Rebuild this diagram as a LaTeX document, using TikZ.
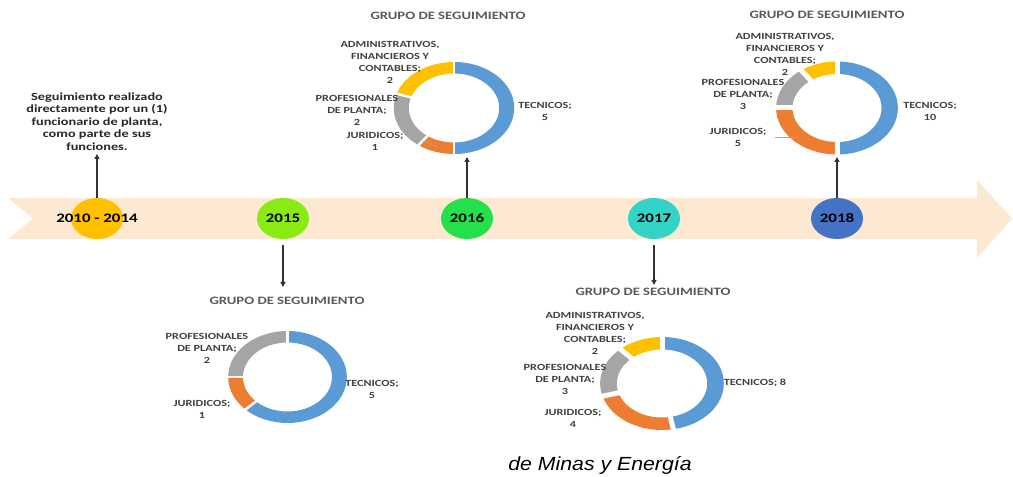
\documentclass[tikz,border=0pt]{standalone}
\usepackage{fontspec}
\usepackage{tikz}
\usetikzlibrary{arrows.meta,shapes.geometric}
\newfontfamily\lblfont[FakeStretch=1.3]{Carlito}
\newfontfamily\capfont[FakeStretch=1.12]{Liberation Sans}
\definecolor{bandpeach}{HTML}{FDE9D2}
\definecolor{yr10}{HTML}{FFC000}
\definecolor{yr15}{HTML}{8AEA14}
\definecolor{yr16}{HTML}{25E04A}
\definecolor{yr17}{HTML}{33D3C8}
\definecolor{yr18}{HTML}{4472C4}
\definecolor{tecblue}{HTML}{5B9BD5}
\definecolor{jurorange}{HTML}{ED7D31}
\definecolor{profgray}{HTML}{A5A5A5}
\definecolor{admyellow}{HTML}{FFC000}
\newcommand{\rout}{46}
\newcommand{\rin}{34.5}
\newcommand{\ringpart}[3]{%
  \fill[#1] (#2:\rout) arc[start angle=#2, end angle=#3, radius=\rout]
    -- (#3:\rin) arc[start angle=#3, end angle=#2, radius=\rin] -- cycle;}

\begin{document}
\begin{tikzpicture}[x=1pt, y=1pt,
    yearfont/.style={font=\lblfont\bfseries\fontsize{13}{15}\selectfont},
    yearnode/.style={ellipse, fill=#1, minimum width=52pt, minimum height=41pt,
      inner sep=0pt, yearfont},
    grptitle/.style={text=black!65, font=\lblfont\bfseries\fontsize{11.3}{13}\selectfont},
    lbl/.style={text=black!75, align=center, font=\lblfont\bfseries\fontsize{9.4}{12}\selectfont},
    link/.style={draw=black!80, line width=1.4pt, -{Triangle[length=5pt, width=5pt]}},
    cut/.style={white, line width=#1},
    leader/.style={draw=black!35, line width=0.6pt}]
    \useasboundingbox (0,0) rectangle (1013,477);

    % Timeline band
    \fill[bandpeach] (8,279) -- (977,279) -- (977,297) -- (1012,258.5) -- (977,219)
        -- (977,238) -- (8,238) -- (33,258.5) -- cycle;

    % Years
    \node[yearnode=yr10] (y2010) at (97,258.5) {};
    \node[yearfont] (y2010txt) at (y2010.center) {2010 - 2014};
    \node[yearnode=yr15] (y2015) at (283,258.5) {2015};
    \node[yearnode=yr16] (y2016) at (467,258.5) {2016};
    \node[yearnode=yr17] (y2017) at (654,258.5) {2017};
    \node[yearnode=yr18] (y2018) at (837,258.5) {2018};

    % 2010 - 2014
    \node[text=black!85, align=center, font=\lblfont\bfseries\fontsize{11}{12.5}\selectfont]
        (note) at (97,355.5) {Seguimiento realizado\\directamente por un (1)\\funcionario de planta,\\como parte de sus\\funciones.};
    \draw[link] (y2010.north) -- (note.south);

    % 2016
    \begin{scope}[shift={(454,369)}, xscale=1.31]
        \ringpart{tecblue}{90}{-90}
        \ringpart{jurorange}{-90}{-126}
        \ringpart{profgray}{-126}{-198}
        \ringpart{admyellow}{-198}{-270}
        \foreach \a in {90,-90,-126,-198} \draw[cut=2.5pt] (\a:31) -- (\a:49);
    \end{scope}
    \node[grptitle] (t16) at (448,461) {GRUPO DE SEGUIMIENTO};
    \node[lbl] (adm16) at (390,414.5) {ADMINISTRATIVOS,\\FINANCIEROS Y\\CONTABLES;\\2};
    \node[lbl] (prof16) at (357,367) {PROFESIONALES\\DE PLANTA;\\2};
    \node[lbl] (jur16) at (375,335.5) {JURIDICOS;\\1};
    \node[lbl] (tec16) at (545,366) {TECNICOS;\\5};
    \coordinate (j16a) at (423,336);
    \coordinate (j16b) at (437,330);
    \draw[leader] (j16a) -- (j16b);
    \coordinate (d16) at (467,320);
    \draw[link] (y2016.north) -- (d16);

    % 2018
    \begin{scope}[shift={(837,369)}, xscale=1.31]
        \renewcommand{\rout}{46.5}\renewcommand{\rin}{34}
        \ringpart{tecblue}{90}{-90}
        \ringpart{jurorange}{-90}{-180}
        \ringpart{profgray}{-180}{-234}
        \ringpart{admyellow}{-234}{-270}
        \foreach \a in {90,-90,-180,-234} \draw[cut=5pt] (\a:31) -- (\a:49);
    \end{scope}
    \node[grptitle] (t18) at (827,462) {GRUPO DE SEGUIMIENTO};
    \node[lbl] (adm18) at (785,423) {ADMINISTRATIVOS,\\FINANCIEROS Y\\CONTABLES;\\2};
    \node[lbl] (prof18) at (743,383) {PROFESIONALES\\DE PLANTA;\\3};
    \node[lbl] (jur18) at (738,340) {JURIDICOS;\\5};
    \node[lbl] (tec18) at (930,366) {TECNICOS;\\10};
    \coordinate (j18a) at (775,340);
    \coordinate (j18b) at (798,340);
    \draw[leader] (j18a) -- (j18b);
    \coordinate (d18) at (837,320);
    \draw[link] (y2018.north) -- (d18);

    % 2015
    \begin{scope}[shift={(287.5,100)}, xscale=1.29]
        \ringpart{tecblue}{90}{-135}
        \ringpart{jurorange}{-135}{-180}
        \ringpart{profgray}{-180}{-270}
        \foreach \a in {90,-135,-180} \draw[cut=2.5pt] (\a:31) -- (\a:49);
    \end{scope}
    \node[grptitle] (t15) at (287,176) {GRUPO DE SEGUIMIENTO};
    \node[lbl] (prof15) at (207,129) {PROFESIONALES\\DE PLANTA;\\2};
    \node[lbl] (jur15) at (202,68) {JURIDICOS;\\1};
    \node[lbl] (tec15) at (372,88) {TECNICOS;\\5};
    \coordinate (d15) at (283,190);
    \draw[link, shorten <=6pt] (y2015.south) -- (d15);

    % 2017
    \begin{scope}[shift={(662,93.5)}, xscale=1.33]
        \renewcommand{\rout}{46.5}\renewcommand{\rin}{34}
        \ringpart{tecblue}{90}{-79.41}
        \ringpart{jurorange}{-79.41}{-164.12}
        \ringpart{profgray}{-164.12}{-227.65}
        \ringpart{admyellow}{-227.65}{-270}
        \foreach \a in {90,-79.41,-164.12,-227.65} \draw[cut=5pt] (\a:31) -- (\a:49);
    \end{scope}
    \node[grptitle] (t17) at (653,185) {GRUPO DE SEGUIMIENTO};
    \node[lbl] (adm17) at (595,144) {ADMINISTRATIVOS,\\FINANCIEROS Y\\CONTABLES;\\2};
    \node[lbl] (prof17) at (565,98) {PROFESIONALES\\DE PLANTA;\\3};
    \node[lbl] (jur17) at (573,59) {JURIDICOS;\\4};
    \node[lbl] (tec17) at (755,94) {TECNICOS; 8};
    \coordinate (d17) at (654,192);
    \draw[link, shorten <=6pt] (y2017.south) -- (d17);

    % Source line
    \node[font=\capfont\itshape\fontsize{19}{22}\selectfont] (src) at (600,12) {de Minas y Energía};
\end{tikzpicture}
\end{document}
